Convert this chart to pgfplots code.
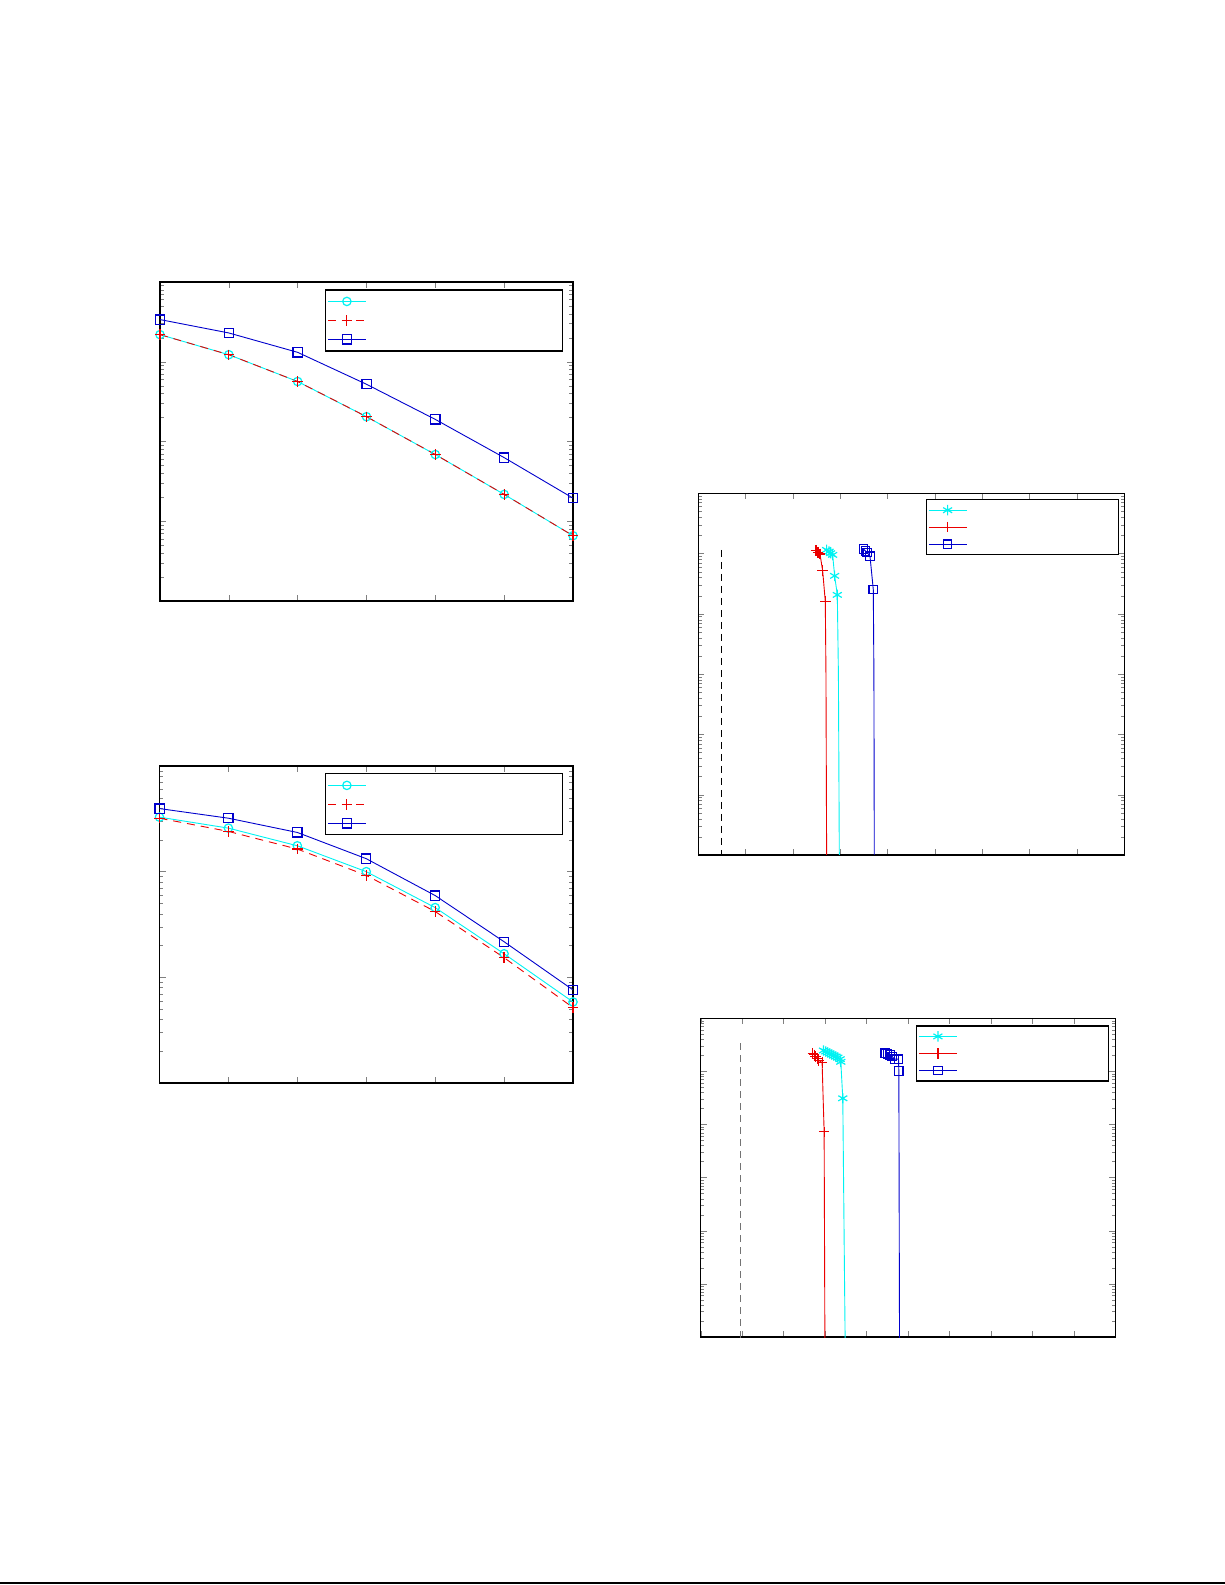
\documentclass[border=0pt]{standalone}
\usepackage{pgfplots}
\pgfplotsset{compat=1.18}
\definecolor{mcyan}{rgb}{0,0.95,0.95}
\definecolor{mred}{rgb}{0.92,0,0}
\definecolor{mblue}{rgb}{0,0,0.8}
\newcommand{\legtext}[2]{\rule[-2pt]{#1}{0pt}\rule{0pt}{#2}}
\pgfplotsset{
  every axis/.append style={
    scale only axis,
    axis line style={line width=0.6pt},
    major tick length=3pt, minor tick length=1.8pt,
    yticklabels={}, xticklabels={},
    legend cell align=left,
    legend image code/.code={\draw[mark indices={2}] plot coordinates {(0cm,0cm)(0.33cm,0cm)(0.67cm,0cm)};},
    legend style={draw=black, line width=0.6pt, inner sep=1pt, row sep=0pt, nodes={inner sep=1pt}, anchor=north east},
  },
  cy/.style={mcyan, line width=0.45pt, mark options={solid, line width=0.6pt}},
  rd/.style={mred, line width=0.45pt, mark options={solid, line width=0.6pt}},
  bl/.style={mblue, line width=0.45pt, mark options={solid, line width=0.6pt}},
}
\begin{document}
\begin{tikzpicture}
\useasboundingbox (0,0) rectangle (612.5pt,792.5pt);
\draw[line width=1pt] (0,0.75pt) -- (612.5pt,0.75pt);

% ---------- plot 1 ----------
\begin{axis}[ymode=log, at={(80pt,492pt)}, anchor=south west,
  width=206.5pt, height=159.5pt,
  xmin=0, xmax=6, xtick={0,...,6},
  ymin=1e-4, ymax=1, ytick={1e-4,1e-3,1e-2,1e-1,1},
  legend style={at={(0.9765,0.977)}}]
\addplot[cy, mark=o, mark size=2.1pt] coordinates {(0,0.2188)(1,0.1225)(2,0.0565)(3,0.02046)(4,0.00686)(5,0.00217)(6,0.000659)};
\addlegendentry{\legtext{95pt}{6pt}}
\addplot[rd, dashed, dash pattern=on 4pt off 3pt, mark=+, mark size=2.6pt] coordinates {(0,0.2188)(1,0.1225)(2,0.0565)(3,0.02046)(4,0.00686)(5,0.00217)(6,0.000659)};
\addlegendentry{\legtext{95pt}{6pt}}
\addplot[bl, mark=square, mark size=2.3pt] coordinates {(0,0.338)(1,0.2296)(2,0.1312)(3,0.0522)(4,0.01892)(5,0.00628)(6,0.00195)};
\addlegendentry{\legtext{95pt}{6pt}}
\end{axis}

% ---------- plot 2 ----------
\begin{axis}[ymode=log, at={(79.75pt,251pt)}, anchor=south west,
  width=206.75pt, height=158.5pt,
  xmin=0, xmax=6, xtick={0,...,6},
  ymin=1e-3, ymax=1, ytick={1e-3,1e-2,1e-1,1},
  legend style={at={(0.9765,0.977)}}]
\addplot[cy, mark=o, mark size=2.1pt] coordinates {(0,0.3281)(1,0.2582)(2,0.1758)(3,0.1)(4,0.04571)(5,0.01671)(6,0.005848)};
\addlegendentry{\legtext{95pt}{6pt}}
\addplot[rd, dashed, dash pattern=on 4pt off 3pt, mark=+, mark size=2.6pt] coordinates {(0,0.3206)(1,0.2404)(2,0.1637)(3,0.09226)(4,0.04198)(5,0.01535)(6,0.005176)};
\addlegendentry{\legtext{95pt}{6pt}}
\addplot[bl, mark=square, mark size=2.3pt] coordinates {(0,0.3954)(1,0.3206)(2,0.2350)(3,0.1327)(4,0.05943)(5,0.02173)(6,0.007603)};
\addlegendentry{\legtext{95pt}{6pt}}
\end{axis}

% ---------- plot 3 ----------
\begin{axis}[ymode=log, at={(349.15pt,365pt)}, anchor=south west,
  width=213pt, height=180.85pt,
  xmin=0, xmax=9, xtick={0,...,9},
  ymin=1e-6, ymax=1, ytick={1e-6,1e-5,1e-4,1e-3,1e-2,1e-1,1},
  legend style={at={(0.9876,0.984)}}]
\addplot[cy, mark=asterisk, mark size=2.6pt, mark indices={1,2,3,4,5,6}] coordinates {(2.711,0.1151)(2.761,0.1079)(2.796,0.1014)(2.838,0.0951)(2.880,0.0427)(2.937,0.02065)(2.96,1e-3)(2.979,1e-6)(2.99,1e-8)};
\addlegendentry{\legtext{72.5pt}{5pt}}
\addplot[rd, mark=+, mark size=2.6pt, mark indices={1,2,3,4,5}] coordinates {(2.486,0.1122)(2.528,0.1040)(2.570,0.0986)(2.627,0.0522)(2.683,0.0160)(2.697,1e-3)(2.711,1e-6)(2.72,1e-8)};
\addlegendentry{\legtext{72.5pt}{5pt}}
\addplot[bl, mark=square, mark size=2.1pt, mark indices={1,2,3,4,5}] coordinates {(3.486,0.1194)(3.528,0.1107)(3.570,0.1040)(3.627,0.0904)(3.697,0.0253)(3.71,1e-3)(3.718,1e-6)(3.72,1e-8)};
\addlegendentry{\legtext{72.5pt}{5pt}}
\addplot[black, line width=0.5pt, dashed, dash pattern=on 3.5pt off 2.5pt, forget plot] coordinates {(0.486,0.115)(0.486,1e-8)};
\end{axis}

% ---------- plot 4 ----------
\begin{axis}[ymode=log, at={(350.35pt,124pt)}, anchor=south west,
  width=207.3pt, height=159.35pt,
  xmin=0, xmax=10, xtick={0,...,10},
  ymin=1e-6, ymax=1, ytick={1e-6,1e-5,1e-4,1e-3,1e-2,1e-1,1},
  legend style={at={(0.9855,0.978)}}]
\addplot[cy, mark=asterisk, mark size=2.6pt, mark indices={1,2,3,4,5,6,7,8,9,10,11}] coordinates {(2.961,0.2477)(3.017,0.2371)(3.065,0.2270)(3.113,0.2173)(3.162,0.2084)(3.210,0.1995)(3.258,0.1910)(3.307,0.1828)(3.363,0.1702)(3.379,0.1517)(3.427,0.03119)(3.47,1e-5)(3.483,1e-6)(3.49,1e-8)};
\addlegendentry{\legtext{72.5pt}{5pt}}
\addplot[rd, mark=+, mark size=2.6pt, mark indices={1,2,3,4,5,6,7}] coordinates {(2.703,0.2208)(2.735,0.2053)(2.767,0.1910)(2.808,0.1754)(2.848,0.1608)(2.928,0.1476)(2.977,0.00729)(2.995,1e-6)(3.0,1e-8)};
\addlegendentry{\legtext{72.5pt}{5pt}}
\addplot[bl, mark=square, mark size=2.1pt, mark indices={1,2,3,4,5,6,7}] coordinates {(4.449,0.2208)(4.505,0.2143)(4.570,0.2051)(4.618,0.1910)(4.674,0.1702)(4.771,0.1702)(4.779,0.1014)(4.795,1e-6)(4.80,1e-8)};
\addlegendentry{\legtext{72.5pt}{5pt}}
\addplot[black!55, line width=0.5pt, dashed, dash pattern=on 3.5pt off 2.5pt, forget plot] coordinates {(0.97,0.34)(0.97,1e-8)};
\end{axis}
\end{tikzpicture}
\end{document}
